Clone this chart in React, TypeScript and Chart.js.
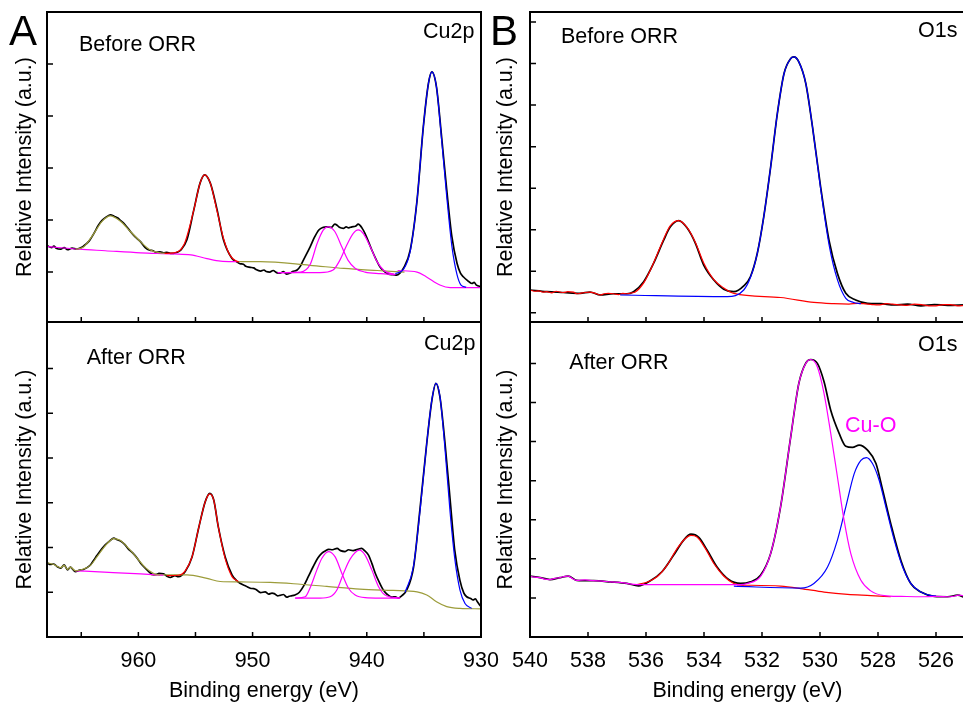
import React, { useEffect, useRef } from 'react';
import { Chart, registerables } from 'chart.js';

Chart.register(...registerables);

type P = [number, number];

const FONT = '"Liberation Sans", Arial, Helvetica, sans-serif';

// ---------------- tick values ----------------
const CU_X_TICKS = [965, 960, 955, 950, 945, 940, 935, 930];
const O_X_TICKS = [540, 538, 536, 534, 532, 530, 528, 526];
const TL_Y_TICKS = [0, 1, 2, 3, 4];
const BL_Y_TICKS = [0, 1, 2, 3, 4, 5];
const TR_Y_TICKS = [0, 1, 2, 3, 4, 5, 6, 7];
const BR_Y_TICKS = [0, 1, 2, 3, 4, 5, 6];

// ---------------- Cu2p, before ORR ----------------
const tlBlack: P[] = [
  [968.0, 0.51], [967.6, 0.47], [967.4, 0.5], [967.2, 0.46], [966.8, 0.44], [966.5, 0.47], [966.2, 0.43],
  [965.8, 0.46], [965.4, 0.44], [965.1, 0.46], [964.8, 0.5], [964.3, 0.6], [963.9, 0.74], [963.5, 0.9],
  [963.2, 0.99], [962.8, 1.06], [962.45, 1.1], [962.1, 1.07], [961.8, 1.04], [961.6, 1.0], [961.2, 0.92],
  [960.7, 0.78], [960.3, 0.68], [959.8, 0.58], [959.4, 0.47], [959.0, 0.42], [958.7, 0.41], [958.5, 0.38],
  [958.1, 0.39], [957.8, 0.37], [957.5, 0.38], [957.2, 0.36], [956.9, 0.36], [956.6, 0.38], [956.3, 0.42],
  [955.75, 0.62], [955.15, 1.19], [954.6, 1.71], [954.2, 1.87], [953.7, 1.71], [953.1, 1.19], [952.55, 0.62],
  [951.8, 0.26], [951.4, 0.2], [951.1, 0.16], [950.8, 0.15], [950.6, 0.11], [950.2, 0.09], [949.9, 0.08],
  [949.7, 0.05], [949.3, 0.02], [949.0, 0.04], [948.8, 0.01], [948.5, 0.0], [948.2, 0.03], [947.9, -0.01],
  [947.6, -0.02], [947.3, 0.01], [947.0, -0.04], [946.7, -0.02], [946.5, 0.01], [946.1, 0.04], [945.8, 0.12],
  [945.55, 0.23], [944.95, 0.49], [944.6, 0.66], [944.2, 0.81], [943.8, 0.86], [943.5, 0.87], [943.1, 0.86],
  [942.8, 0.92], [942.6, 0.9], [942.4, 0.86], [942.05, 0.84], [941.8, 0.87], [941.6, 0.85], [941.3, 0.87],
  [941.0, 0.88], [940.75, 0.92], [940.4, 0.84], [940.15, 0.74], [939.55, 0.42], [939.2, 0.25], [938.85, 0.1],
  [938.5, 0.02], [938.1, -0.04], [937.7, -0.05], [937.4, -0.06], [937.1, -0.02], [936.8, 0.07], [936.2, 0.42],
  [935.6, 1.38], [935.05, 2.79], [934.6, 3.63], [934.3, 3.85], [933.9, 3.56], [933.45, 2.6], [933.0, 1.58],
  [932.55, 0.68], [932.1, 0.17], [931.8, -0.02], [931.55, -0.09], [931.2, -0.16], [930.8, -0.22],
  [930.6, -0.2], [930.4, -0.25], [930.0, -0.28],
];
const tlOliveSat: P[] = [
  [965.5, 0.44], [964.8, 0.48], [963.9, 0.74], [963.2, 0.97], [962.45, 1.08], [961.6, 0.98], [960.7, 0.78],
  [959.8, 0.58], [959.0, 0.43], [958.1, 0.37], [957.6, 0.36],
];
const tlMagBgLeft: P[] = [
  [968.0, 0.49], [965.2, 0.44], [962.9, 0.41], [959.8, 0.37], [956.9, 0.35], [955.4, 0.33], [954.0, 0.26],
  [952.8, 0.21], [951.3, 0.2],
];
const tlOliveBg: P[] = [
  [951.3, 0.2], [949.3, 0.2], [945.0, 0.13], [942.0, 0.07], [939.1, 0.03], [936.7, 0.0],
];
const tlMagBgRight: P[] = [
  [937.3, 0.03], [935.6, 0.0], [934.8, -0.09], [933.6, -0.25], [932.7, -0.3], [930.0, -0.3],
];
const tlRed: P[] = [
  [957.7, 0.36], [956.9, 0.37], [956.0, 0.53], [955.15, 1.19], [954.6, 1.71], [954.2, 1.87], [953.7, 1.71],
  [953.1, 1.16], [952.55, 0.65], [952.0, 0.33], [951.4, 0.21], [951.2, 0.2],
];
const tlMagPeak1: P[] = [
  [947.8, -0.01], [945.8, 0.0], [944.95, 0.15], [944.35, 0.55], [943.8, 0.81], [943.4, 0.87], [942.8, 0.78],
  [942.2, 0.49], [941.65, 0.23], [941.0, 0.07], [940.15, 0.0], [938.8, -0.03], [937.5, -0.05],
];
const tlMagPeak2: P[] = [
  [947.8, -0.01], [944.1, -0.01], [942.95, 0.04], [942.35, 0.23], [941.75, 0.52], [941.2, 0.74], [940.75, 0.81],
  [940.3, 0.74], [939.7, 0.49], [939.1, 0.2], [938.5, 0.03], [937.5, -0.05],
];
const tlBlue: P[] = [
  [937.5, -0.03], [936.8, 0.05], [936.2, 0.4], [935.6, 1.38], [935.05, 2.79], [934.6, 3.63], [934.3, 3.85],
  [933.9, 3.56], [933.45, 2.55], [933.0, 1.45], [932.55, 0.5], [932.1, -0.05], [931.75, -0.25], [931.3, -0.29],
];

// ---------------- Cu2p, after ORR ----------------
const blBlack: P[] = [
  [968.0, 0.66], [967.7, 0.62], [967.4, 0.63], [967.1, 0.57], [966.8, 0.54], [966.5, 0.61], [966.2, 0.5],
  [965.95, 0.56], [965.7, 0.5], [965.5, 0.46], [965.2, 0.49], [964.8, 0.51], [964.5, 0.55], [964.2, 0.61],
  [963.9, 0.72], [963.6, 0.83], [963.2, 0.97], [962.9, 1.06], [962.5, 1.15], [962.15, 1.21], [961.9, 1.18],
  [961.6, 1.15], [961.2, 1.07], [960.85, 0.96], [960.5, 0.88], [960.1, 0.76], [959.8, 0.65], [959.4, 0.54],
  [959.0, 0.44], [958.65, 0.39], [958.4, 0.4], [958.2, 0.42], [957.8, 0.41], [957.5, 0.36], [957.2, 0.33],
  [956.8, 0.37], [956.5, 0.35], [956.2, 0.38], [955.9, 0.46], [955.3, 0.79], [954.7, 1.46], [954.15, 2.02],
  [953.75, 2.21], [953.4, 2.06], [953.0, 1.46], [952.4, 0.79], [951.8, 0.39], [951.4, 0.26], [951.1, 0.2],
  [950.8, 0.16], [950.6, 0.14], [950.2, 0.09], [949.9, 0.08], [949.7, 0.06], [949.3, -0.01], [948.9, 0.01],
  [948.6, -0.04], [948.3, -0.02], [948.1, -0.03], [947.8, -0.08], [947.6, -0.07], [947.3, -0.05],
  [947.0, -0.11], [946.8, -0.09], [946.6, -0.08], [946.3, -0.06], [945.9, 0.0], [945.55, 0.13], [945.1, 0.36],
  [944.7, 0.57], [944.3, 0.76], [943.95, 0.87], [943.6, 0.93], [943.35, 0.96], [943.0, 0.95], [942.6, 0.98],
  [942.3, 0.93], [941.9, 0.91], [941.6, 0.95], [941.2, 0.93], [940.8, 0.96], [940.45, 0.98], [940.2, 0.93],
  [939.85, 0.83], [939.55, 0.64], [939.25, 0.42], [938.9, 0.22], [938.55, 0.05], [938.2, -0.05],
  [937.8, -0.11], [937.5, -0.1], [937.25, -0.13], [936.9, -0.07], [936.5, 0.05], [935.9, 0.57], [935.35, 1.84],
  [934.75, 3.33], [934.3, 4.29], [933.95, 4.67], [933.6, 4.37], [933.15, 3.33], [932.7, 2.06], [932.3, 0.94],
  [931.85, 0.27], [931.5, -0.02], [931.25, -0.1], [930.9, -0.14], [930.7, -0.17], [930.5, -0.15],
  [930.3, -0.22], [930.05, -0.31],
];
const blOliveSat: P[] = [
  [968.0, 0.66], [967.4, 0.62], [966.8, 0.55], [966.5, 0.6], [966.2, 0.51], [965.95, 0.56], [965.5, 0.48],
  [964.8, 0.52], [964.2, 0.6], [963.6, 0.8], [962.9, 1.04], [962.15, 1.2], [961.6, 1.16], [960.85, 0.98],
  [960.1, 0.76], [959.4, 0.55], [958.65, 0.42], [958.1, 0.38],
];
const blMagBg: P[] = [
  [965.5, 0.48], [963.0, 0.45], [959.8, 0.41], [957.8, 0.38],
];
const blOliveBg: P[] = [
  [958.9, 0.39], [955.74, 0.39], [953.99, 0.31], [952.83, 0.24], [951.08, 0.23], [948.45, 0.22], [946.4, 0.19],
  [943.5, 0.13], [940.6, 0.07], [937.7, 0.04], [935.6, 0.01], [934.75, -0.06], [933.9, -0.21], [933.0, -0.32],
  [931.84, -0.36], [930.0, -0.37],
];
const blRed: P[] = [
  [957.5, 0.37], [956.5, 0.38], [955.9, 0.48], [955.3, 0.79], [954.7, 1.46], [954.15, 2.02], [953.75, 2.2],
  [953.4, 2.06], [953.0, 1.46], [952.4, 0.75], [951.8, 0.35], [951.25, 0.24],
];
const blMagPeak1: P[] = [
  [946.27, -0.13], [945.39, -0.1], [944.96, 0.1], [944.37, 0.5], [943.93, 0.76], [943.36, 0.91], [942.77, 0.79],
  [942.18, 0.42], [941.61, 0.09], [941.02, -0.06], [940.15, -0.12], [938.83, -0.13], [937.08, -0.13],
];
const blMagPeak2: P[] = [
  [946.27, -0.13], [944.08, -0.13], [943.21, -0.1], [942.62, 0.05], [942.04, 0.42], [941.46, 0.74], [940.64, 0.94],
  [940.15, 0.83], [939.56, 0.5], [938.98, 0.13], [938.4, -0.06], [937.08, -0.13],
];
const blBlue: P[] = [
  [936.65, 0.0], [935.92, 0.57], [935.33, 1.84], [934.75, 3.33], [934.31, 4.29], [933.94, 4.67], [933.59, 4.37],
  [933.15, 3.2], [932.71, 1.8], [932.27, 0.7], [931.84, 0.05], [931.4, -0.25], [930.81, -0.36],
];

// ---------------- O1s, before ORR ----------------
const trBlack: P[] = [
  [540.0, 0.55], [539.42, 0.51], [538.85, 0.49], [538.27, 0.47], [537.93, 0.5], [537.58, 0.43], [537.12, 0.46],
  [536.66, 0.46], [536.43, 0.51], [536.08, 0.75], [535.74, 1.19], [535.39, 1.75], [535.16, 2.07], [534.87, 2.22],
  [534.58, 2.04], [534.3, 1.68], [534.01, 1.15], [533.66, 0.79], [533.32, 0.57], [532.97, 0.51], [532.63, 0.65],
  [532.4, 0.87], [532.16, 1.44], [531.94, 2.31], [531.7, 3.52], [531.47, 4.8], [531.24, 5.76], [531.01, 6.12],
  [530.9, 6.16], [530.73, 6.04], [530.49, 5.52], [530.26, 4.48], [529.98, 3.04], [529.69, 1.75], [529.4, 0.95],
  [529.11, 0.47], [528.77, 0.31], [528.36, 0.23], [527.9, 0.22], [527.44, 0.19], [526.98, 0.21], [526.52, 0.17],
  [526.06, 0.2], [525.6, 0.18], [525.03, 0.19],
];
const trRed: P[] = [
  [540.0, 0.55], [539.85, 0.52], [539.7, 0.53], [539.55, 0.5], [539.42, 0.51], [539.25, 0.48], [539.1, 0.52],
  [538.95, 0.5], [538.85, 0.49], [538.7, 0.51], [538.5, 0.5], [538.38, 0.46], [538.27, 0.47], [538.1, 0.49],
  [537.93, 0.5], [537.75, 0.47], [537.58, 0.43], [537.45, 0.46], [537.3, 0.47], [537.12, 0.46], [536.95, 0.44],
  [536.8, 0.47], [536.66, 0.46], [536.5, 0.48], [536.37, 0.5], [536.08, 0.72], [535.74, 1.2], [535.39, 1.78],
  [535.16, 2.1], [534.87, 2.22], [534.58, 2.05], [534.3, 1.7], [534.01, 1.2], [533.66, 0.8], [533.32, 0.6],
  [532.97, 0.47], [531.36, 0.37], [530.21, 0.25], [529.53, 0.22], [529.0, 0.21], [528.7, 0.23], [528.5, 0.22],
  [528.2, 0.2], [528.0, 0.19], [527.7, 0.22], [527.5, 0.21], [527.2, 0.19], [527.0, 0.18], [526.75, 0.21],
  [526.5, 0.2], [526.25, 0.17], [526.0, 0.17], [525.75, 0.2], [525.5, 0.2], [525.25, 0.17], [525.03, 0.18],
];
const trBlue: P[] = [
  [536.89, 0.43], [533.2, 0.39], [532.63, 0.55], [532.4, 0.85], [532.16, 1.44], [531.94, 2.31], [531.7, 3.52],
  [531.47, 4.8], [531.24, 5.76], [531.01, 6.12], [530.9, 6.16], [530.73, 6.04], [530.49, 5.52], [530.26, 4.48],
  [529.98, 3.0], [529.69, 1.65], [529.4, 0.8], [529.11, 0.35], [528.84, 0.25], [528.59, 0.22],
];

// ---------------- O1s, after ORR ----------------
const brBlack: P[] = [
  [540.0, 0.56], [539.65, 0.52], [539.31, 0.47], [538.96, 0.52], [538.68, 0.56], [538.39, 0.45], [537.81, 0.44],
  [537.23, 0.41], [536.66, 0.37], [536.26, 0.31], [535.85, 0.44], [535.45, 0.67], [535.05, 1.09], [534.7, 1.48],
  [534.45, 1.63], [534.18, 1.55], [533.89, 1.22], [533.55, 0.79], [533.15, 0.47], [532.74, 0.37], [532.4, 0.41],
  [532.05, 0.58], [531.7, 1.14], [531.36, 2.33], [531.01, 4.12], [530.73, 5.49], [530.49, 6.01], [530.32, 6.1],
  [530.09, 6.0], [529.86, 5.53], [529.63, 4.8], [529.34, 4.21], [529.11, 3.88], [528.88, 3.85], [528.65, 3.91],
  [528.36, 3.78], [528.07, 3.44], [527.84, 2.76], [527.56, 1.9], [527.21, 0.96], [526.87, 0.37], [526.52, 0.15],
  [526.06, 0.04], [525.6, 0.03], [525.25, 0.07], [525.03, 0.01],
];
const brMagenta: P[] = [
  [540.0, 0.56], [539.85, 0.53], [539.65, 0.52], [539.5, 0.48], [539.31, 0.47], [539.15, 0.5], [538.96, 0.52],
  [538.8, 0.55], [538.68, 0.56], [538.55, 0.5], [538.39, 0.45], [538.1, 0.46], [537.81, 0.44], [537.5, 0.43],
  [537.23, 0.41], [536.9, 0.4], [536.66, 0.37], [536.31, 0.34], [534.0, 0.34], [532.74, 0.34], [532.51, 0.37],
  [532.05, 0.55], [531.7, 1.14], [531.36, 2.33], [531.01, 4.12], [530.73, 5.49], [530.49, 6.0], [530.32, 6.1],
  [530.09, 5.91], [529.86, 5.23], [529.63, 4.21], [529.4, 3.1], [529.17, 1.99], [528.94, 1.14], [528.59, 0.45],
  [528.25, 0.18], [527.79, 0.06], [527.2, 0.04], [526.5, 0.03], [526.0, 0.04], [525.5, 0.03], [525.2, 0.07],
  [525.03, 0.05],
];
const brRedPeak: P[] = [
  [536.31, 0.34], [535.97, 0.4], [535.62, 0.54], [535.27, 0.84], [534.93, 1.26], [534.64, 1.52], [534.45, 1.6],
  [534.24, 1.56], [533.95, 1.26], [533.66, 0.88], [533.32, 0.56], [532.97, 0.37], [532.63, 0.33],
];
const brRedBg: P[] = [
  [532.86, 0.33], [531.36, 0.3], [530.67, 0.24], [529.86, 0.15], [529.05, 0.09], [528.25, 0.06], [527.56, 0.03],
];
const brBlue: P[] = [
  [532.97, 0.3], [530.67, 0.25], [530.21, 0.37], [529.74, 0.79], [529.4, 1.48], [529.11, 2.33], [528.82, 3.18],
  [528.59, 3.52], [528.4, 3.59], [528.19, 3.44], [527.96, 3.01], [527.73, 2.33], [527.44, 1.48], [527.15, 0.79],
  [526.87, 0.37], [526.52, 0.15], [526.17, 0.06], [526.0, 0.05],
];

// ---------------- styling ----------------
const BLACK = '#000000';
const RED = '#ff0000';
const BLUE = '#0000ff';
const MAGENTA = '#ff00ff';
const OLIVE = '#9c9c3a';
const FIT_W = 1.2;
const DATA_W = 1.7;
const TEXT_SIZE = 21.5;

interface Series { data: P[]; color: string; width: number; }
interface PanelSpec {
  left: number; top: number; width: number; height: number;
  padding: { top: number; right: number; bottom: number; left: number };
  yWidth: number; yTitlePad: number; xHeight: number; showX: boolean;
  xMin: number; xMax: number; xTicks: number[]; labelStep: number;
  yMin: number; yMax: number; yTicks: number[];
  series: Series[];
}

const framePlugin = {
  id: 'frame',
  afterDraw(chart: any) {
    const { ctx, chartArea: a, scales } = chart;
    ctx.save();
    ctx.strokeStyle = '#000';
    ctx.lineWidth = 2;
    ctx.strokeRect(a.left, a.top, a.right - a.left, a.bottom - a.top);
    ctx.lineWidth = 1.5;
    ctx.beginPath();
    for (const t of scales.y.ticks) {
      const py = scales.y.getPixelForValue(t.value);
      ctx.moveTo(a.left, py);
      ctx.lineTo(a.left + 6, py);
    }
    for (const t of scales.x.ticks) {
      const px = scales.x.getPixelForValue(t.value);
      ctx.moveTo(px, a.bottom);
      ctx.lineTo(px, a.bottom - 5);
    }
    ctx.stroke();
    ctx.restore();
  },
};

function Panel({ spec }: { spec: PanelSpec }) {
  const ref = useRef<HTMLCanvasElement>(null);
  useEffect(() => {
    const titleFont = { family: FONT, size: TEXT_SIZE };
    const chart = new Chart(ref.current as HTMLCanvasElement, {
      type: 'line',
      data: {
        datasets: spec.series.map((s) => ({
          data: s.data.map(([x, y]) => ({ x, y })),
          borderColor: s.color,
          borderWidth: s.width,
          pointRadius: 0,
          fill: false,
          cubicInterpolationMode: 'monotone' as const,
        })),
      },
      options: {
        responsive: false,
        animation: false,
        events: [],
        layout: { padding: spec.padding },
        plugins: { legend: { display: false }, tooltip: { enabled: false } },
        scales: {
          x: {
            type: 'linear',
            reverse: true,
            min: spec.xMin,
            max: spec.xMax,
            afterBuildTicks: (s: any) => { s.ticks = spec.xTicks.map((v) => ({ value: v })); },
            afterFit: (s: any) => {
              s.height = spec.xHeight;
              s.paddingLeft = 0;
              s.paddingRight = 0;
            },
            grid: { display: false, drawTicks: false },
            border: { display: false },
            ticks: {
              display: spec.showX,
              autoSkip: false,
              maxRotation: 0,
              padding: 11,
              color: '#000',
              font: titleFont,
              callback: (v: any) => (Math.round(v) % spec.labelStep === 0 ? String(v) : ''),
            },
            title: {
              display: spec.showX,
              text: 'Binding energy (eV)',
              color: '#000',
              font: titleFont,
              padding: { top: 0, bottom: 0 },
            },
          },
          y: {
            type: 'linear',
            min: spec.yMin,
            max: spec.yMax,
            afterBuildTicks: (s: any) => { s.ticks = spec.yTicks.map((v) => ({ value: v })); },
            afterFit: (s: any) => { s.width = spec.yWidth; },
            grid: { display: false, drawTicks: false },
            border: { display: false },
            ticks: { display: false },
            title: {
              display: true,
              text: 'Relative Intensity (a.u.)',
              color: '#000',
              font: titleFont,
              padding: { top: spec.yTitlePad, bottom: 0 },
            },
          },
        },
      } as any,
      plugins: [framePlugin],
    });
    return () => chart.destroy();
  }, [spec]);
  return (
    <canvas
      ref={ref}
      width={spec.width}
      height={spec.height}
      style={{ position: 'absolute', left: spec.left, top: spec.top }}
    />
  );
}

const PANELS: PanelSpec[] = [
  {
    left: 0, top: 0, width: 482, height: 323,
    padding: { top: 12, right: 1, bottom: 1, left: 0 },
    yWidth: 47, yTitlePad: 12, xHeight: 0, showX: false,
    xMin: 930, xMax: 968, xTicks: CU_X_TICKS, labelStep: 10,
    yMin: -0.96, yMax: 5.0, yTicks: TL_Y_TICKS,
    series: [
      { data: tlBlue, color: BLUE, width: FIT_W },
      { data: tlMagPeak1, color: MAGENTA, width: FIT_W },
      { data: tlMagPeak2, color: MAGENTA, width: FIT_W },
      { data: tlRed, color: RED, width: FIT_W },
      { data: tlOliveSat, color: OLIVE, width: FIT_W },
      { data: tlMagBgLeft, color: MAGENTA, width: FIT_W },
      { data: tlOliveBg, color: OLIVE, width: FIT_W },
      { data: tlMagBgRight, color: MAGENTA, width: FIT_W },
      { data: tlBlack, color: BLACK, width: DATA_W },
    ],
  },
  {
    left: 0, top: 322, width: 500, height: 382,
    padding: { top: 0, right: 19, bottom: 0, left: 0 },
    yWidth: 47, yTitlePad: 12, xHeight: 67, showX: true,
    xMin: 930, xMax: 968, xTicks: CU_X_TICKS, labelStep: 10,
    yMin: -1.0, yMax: 6.04, yTicks: BL_Y_TICKS,
    series: [
      { data: blBlue, color: BLUE, width: FIT_W },
      { data: blMagPeak1, color: MAGENTA, width: FIT_W },
      { data: blMagPeak2, color: MAGENTA, width: FIT_W },
      { data: blRed, color: RED, width: FIT_W },
      { data: blOliveSat, color: OLIVE, width: FIT_W },
      { data: blMagBg, color: MAGENTA, width: FIT_W },
      { data: blOliveBg, color: OLIVE, width: FIT_W },
      { data: blBlack, color: BLACK, width: DATA_W },
    ],
  },
  {
    left: 482, top: 0, width: 484, height: 323,
    padding: { top: 12, right: 1, bottom: 1, left: 0 },
    yWidth: 48, yTitlePad: 11, xHeight: 0, showX: false,
    xMin: 525, xMax: 540, xTicks: O_X_TICKS, labelStep: 2,
    yMin: -0.22, yMax: 7.24, yTicks: TR_Y_TICKS,
    series: [
      { data: trBlue, color: BLUE, width: FIT_W },
      { data: trRed, color: RED, width: FIT_W },
      { data: trBlack, color: BLACK, width: DATA_W },
    ],
  },
  {
    left: 482, top: 322, width: 484, height: 382,
    padding: { top: 0, right: 1, bottom: 0, left: 0 },
    yWidth: 48, yTitlePad: 11, xHeight: 67, showX: true,
    xMin: 525, xMax: 540, xTicks: O_X_TICKS, labelStep: 2,
    yMin: -1.0, yMax: 7.06, yTicks: BR_Y_TICKS,
    series: [
      { data: brMagenta, color: MAGENTA, width: FIT_W },
      { data: brBlue, color: BLUE, width: FIT_W },
      { data: brRedPeak, color: RED, width: FIT_W },
      { data: brRedBg, color: RED, width: FIT_W },
      { data: brBlack, color: BLACK, width: DATA_W },
    ],
  },
];

const LABELS = [
  { text: 'A', left: 9, top: 9.5, size: 42, color: '#000' },
  { text: 'B', left: 490, top: 9.5, size: 42, color: '#000' },
  { text: 'Before ORR', left: 79, top: 34, size: TEXT_SIZE, color: '#000' },
  { text: 'Cu2p', left: 423, top: 21, size: TEXT_SIZE, color: '#000' },
  { text: 'Before ORR', left: 561, top: 26.3, size: TEXT_SIZE, color: '#000' },
  { text: 'O1s', left: 918, top: 20.3, size: TEXT_SIZE, color: '#000' },
  { text: 'After ORR', left: 86.7, top: 347, size: TEXT_SIZE, color: '#000' },
  { text: 'Cu2p', left: 424, top: 333, size: TEXT_SIZE, color: '#000' },
  { text: 'After ORR', left: 569.3, top: 352, size: TEXT_SIZE, color: '#000' },
  { text: 'O1s', left: 918, top: 334.3, size: TEXT_SIZE, color: '#000' },
  { text: 'Cu-O', left: 845, top: 415.3, size: TEXT_SIZE, color: MAGENTA },
];

export default function App() {
  return (
    <div
      style={{
        position: 'absolute', left: 0, top: 0, width: 963, height: 704,
        overflow: 'hidden', background: '#fff',
      }}
    >
      {PANELS.map((p, i) => <Panel key={i} spec={p} />)}
      {LABELS.map((l, i) => (
        <div
          key={i}
          style={{
            position: 'absolute', left: l.left, top: l.top, fontFamily: FONT,
            fontSize: l.size, lineHeight: 1, color: l.color, whiteSpace: 'nowrap',
          }}
        >
          {l.text}
        </div>
      ))}
    </div>
  );
}
